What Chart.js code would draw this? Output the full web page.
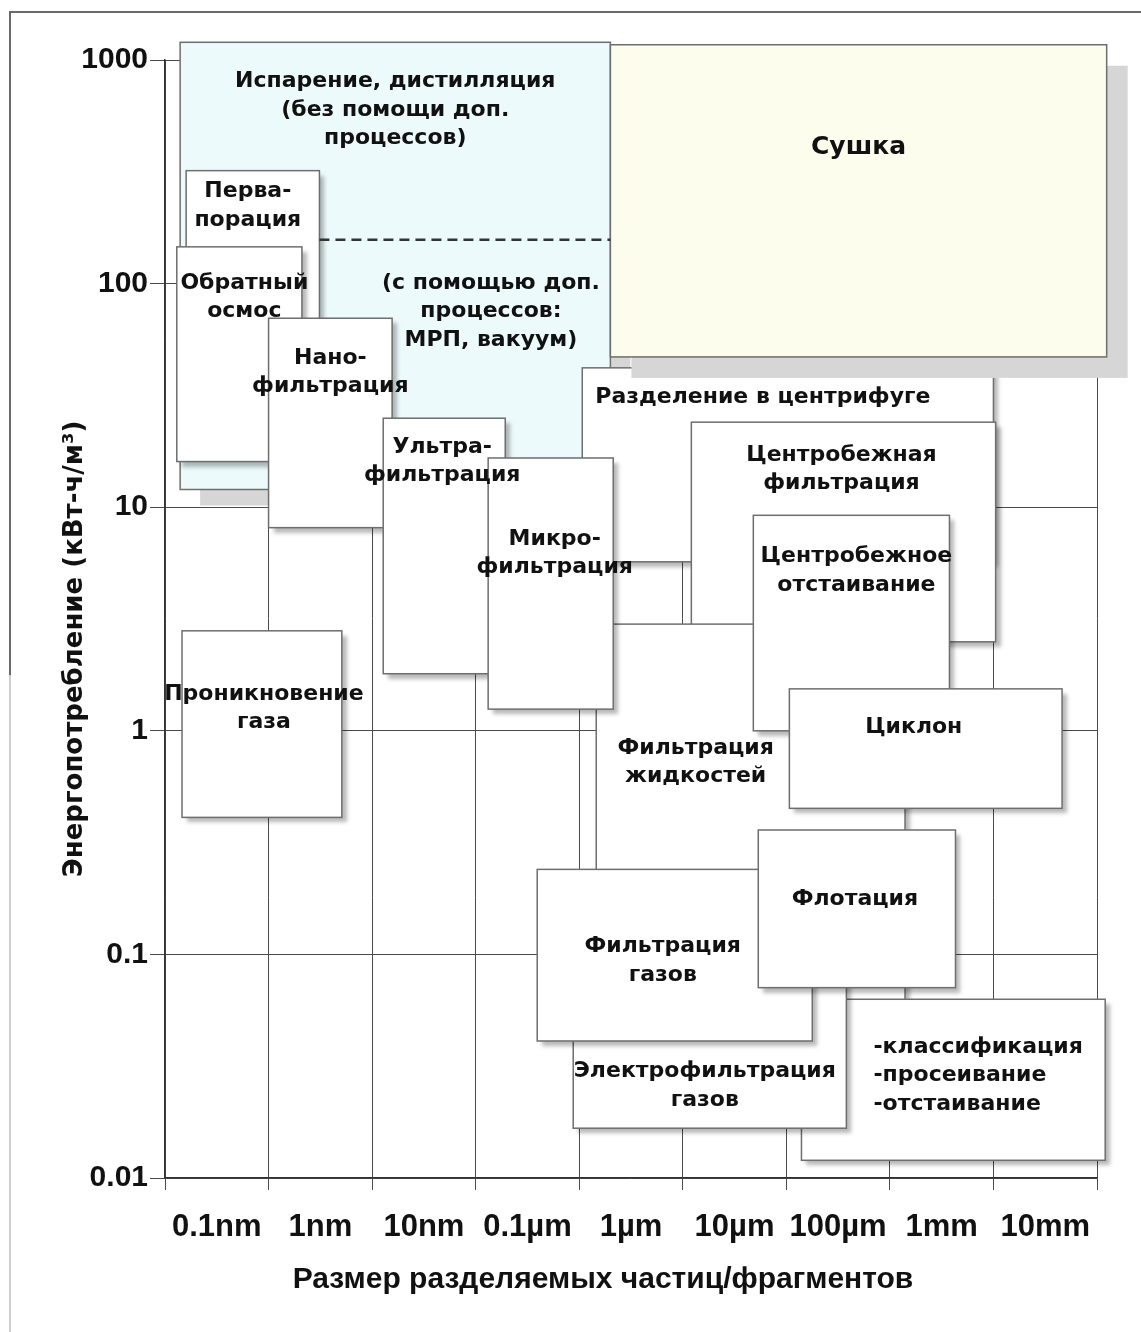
<!DOCTYPE html>
<html lang="ru">
<head>
<meta charset="utf-8">
<title>Энергопотребление процессов разделения</title>
<script src="https://cdn.jsdelivr.net/npm/chart.js@4.4.1/dist/chart.umd.min.js"></script>
<style>
  body { margin: 0; background: #fff; }
  #wrap { position: relative; width: 1141px; height: 1332px; }
  .frame { position: absolute; background: #6a6a6a; }
</style>
</head>
<body>
<div id="wrap">
  <canvas id="separationChart"></canvas>
  <div class="frame" style="left:9px; top:11px; width:1132px; height:2px;"></div>
  <div class="frame" style="left:9px; top:11px; width:2px; height:664px;"></div>
  <div class="frame" style="left:9px; top:675px; width:2px; height:657px; background:#cfcfcf;"></div>
</div>
<script>
// size of separated particles in nm, energy in kWh/m3
// order = drawing order (back to front)
const processLabels = [
    'Испарение, дистилляция\n(без помощи доп.\nпроцессов)',
    'Перва-\nпорация',
    'Обратный\nосмос',
    'Нано-\nфильтрация',
    'Ультра-\nфильтрация',
    'Разделение в центрифуге',
    'Центробежная\nфильтрация',
    'Фильтрация\nжидкостей',
    'Микро-\nфильтрация',
    'Сушка',
    'Центробежное\nотстаивание',
    'Циклон',
    'Проникновение\nгаза',
    '-классификация\n-просеивание\n-отстаивание',
    'Электрофильтрация\nгазов',
    'Фильтрация\nгазов',
    'Флотация'
];
const sizeFrom   = [0.14, 0.16, 0.13, 1.0, 12.8, 1070, 12100, 1460, 132, 2000, 48000, 107000, 0.146, 140000, 875, 393, 53600];
const sizeTo     = [2000, 3.1, 2.1, 15.6, 193, 1e7, 1.05e7, 1.4e6, 2130, 1.24e8, 3.76e6, 4.6e7, 5.1, 1.2e8, 3.8e5, 1.78e5, 4.3e6];
const energyFrom = [12, 30, 16, 8.1, 1.8, 5.7, 2.5, 0.05, 1.25, 47, 1.0, 0.45, 0.41, 0.012, 0.0167, 0.041, 0.071];
const energyTo   = [1200, 320, 146, 70, 25, 42, 24, 3.0, 16.6, 1170, 9.2, 1.54, 2.8, 0.063, 0.094, 0.24, 0.36];

// dashed border "with additional processes" inside the evaporation area
const thresholdSize = [3.1, 2000];
const thresholdEnergy = [157, 157];
const thresholdLabel = '(с помощью доп.\nпроцессов:\nМРП, вакуум)';

const xTickLabels = ['0.1nm', '1nm', '10nm', '0.1µm', '1µm', '10µm', '100µm', '1mm', '10mm'];
const yTickValues = [0.01, 0.1, 1, 10, 100, 1000];
const yTickLabels = ['0.01', '0.1', '1', '10', '100', '1000'];
const xTitle = 'Размер разделяемых частиц/фрагментов';
const yTitle = 'Энергопотребление (кВт-ч/м³)';

// styles
const boxFill = ['#ecfafc', '#fff', '#fff', '#fff', '#fff', '#fff', '#fff', '#fff', '#fff', '#fdfdee',
                 '#fff', '#fff', '#fff', '#fff', '#fff', '#fff', '#fff'];
// [offsetX, offsetY, blur, color]
const boxShadow = processLabels.map((_, i) => {
    if (i === 0) return [20, 16, 0, '#d6d6d6'];
    if (i === 9) return [21, 21, 0, '#d6d6d6'];
    return [5, 5, 4, 'rgba(0,0,0,0.28)'];
});
// text: [dx from box centre (or left edge), dy from box top to first line]
const labelShift = [[0, 39], [-5, 21], [5, 36], [0, 40], [-2, 29], [-25, 29], [-2, 33], [-55, 124], [4, 81],
                    [0, 103], [5, 41], [-12, 38], [2, 63], [72, 48], [-5, 111], [-12, 77], [-2, 69]];
const labelFont = 'bold 22px "DejaVu Sans", sans-serif';
const lineStep = 28.5;

function drawText(ctx, text, x, y, font, align) {
    ctx.font = font;
    ctx.fillStyle = '#111';
    ctx.textAlign = align;
    ctx.textBaseline = 'middle';
    text.split('\n').forEach((line, k) => ctx.fillText(line, x, y + k * lineStep));
}

const processBoxes = {
    id: 'processBoxes',
    beforeDatasetsDraw(chart) {
        const { ctx, scales: { x, y } } = chart;
        const rects = processLabels.map((_, i) => ({
            left: x.getPixelForValue(sizeFrom[i]),
            right: x.getPixelForValue(sizeTo[i]),
            top: y.getPixelForValue(energyTo[i]),
            bottom: y.getPixelForValue(energyFrom[i])
        }));
        ctx.save();
        rects.forEach((r, i) => {
            const [sx, sy, blur, scol] = boxShadow[i];
            ctx.shadowColor = scol;
            ctx.shadowOffsetX = sx;
            ctx.shadowOffsetY = sy;
            ctx.shadowBlur = blur;
            ctx.fillStyle = boxFill[i];
            ctx.fillRect(r.left, r.top, r.right - r.left, r.bottom - r.top);
            ctx.shadowColor = 'transparent';
            ctx.lineWidth = 1.5;
            ctx.strokeStyle = '#6e6e6e';
            ctx.strokeRect(r.left, r.top, r.right - r.left, r.bottom - r.top);
        });
        // labels go on top of every box
        rects.forEach((r, i) => {
            const label = processLabels[i];
            const [dx, dy] = labelShift[i];
            if (label.startsWith('-')) {
                drawText(ctx, label, r.left + dx, r.top + dy, labelFont, 'left');
            } else {
                const font = i === 9 ? 'bold 25px "DejaVu Sans", sans-serif' : labelFont;
                drawText(ctx, label, (r.left + r.right) / 2 + dx, r.top + dy, font, 'center');
            }
        });
        const cx = (x.getPixelForValue(thresholdSize[0]) + x.getPixelForValue(thresholdSize[1])) / 2;
        drawText(ctx, thresholdLabel, cx + 26, y.getPixelForValue(thresholdEnergy[0]) + 43, labelFont, 'center');
        ctx.restore();
    },
    afterDraw(chart) {
        const { ctx, chartArea: a } = chart;
        ctx.save();
        ctx.fillStyle = '#111';
        ctx.textAlign = 'center';
        ctx.textBaseline = 'middle';
        ctx.font = 'bold 30px "Liberation Sans", Arial, sans-serif';
        ctx.fillText(xTitle, (a.left + a.right) / 2 - 28, a.bottom + 102);
        ctx.translate(a.left - 90, (a.top + a.bottom) / 2 + 30);
        ctx.rotate(-Math.PI / 2);
        ctx.font = 'bold 26px "DejaVu Sans", sans-serif';
        ctx.fillText(yTitle, 0, 0);
        ctx.restore();
    }
};

new Chart(document.getElementById('separationChart'), {
    type: 'scatter',
    data: {
        datasets: [{
            data: thresholdSize.map((s, i) => ({ x: s, y: thresholdEnergy[i] })),
            showLine: true,
            borderColor: '#333',
            borderWidth: 2.5,
            borderDash: [10, 6],
            pointRadius: 0
        }]
    },
    options: {
        responsive: true,
        maintainAspectRatio: false,
        animation: false,
        layout: { padding: { top: 60, right: 44, bottom: 0, left: 0 } },
        plugins: {
            legend: { display: false },
            tooltip: { enabled: false }
        },
        scales: {
            x: {
                type: 'logarithmic',
                position: 'bottom',
                min: 0.1,
                max: 1e8,
                display: false
            },
            x2: {
                type: 'category',
                position: 'bottom',
                labels: xTickLabels,
                offset: true,
                afterFit: scale => { scale.height = 154; },
                grid: { offset: true, color: '#4a4a4a', lineWidth: 1, tickLength: 12 },
                border: { color: '#333', width: 1.5 },
                ticks: {
                    color: '#111',
                    padding: 19,
                    maxRotation: 0,
                    autoSkip: false,
                    font: { family: '"Liberation Sans", Arial, sans-serif', size: 31, weight: 'bold' }
                }
            },
            y: {
                type: 'logarithmic',
                position: 'left',
                min: 0.01,
                max: 1000,
                afterBuildTicks: scale => { scale.ticks = yTickValues.map(v => ({ value: v })); },
                afterFit: scale => { scale.width = 165; },
                grid: { color: '#4a4a4a', lineWidth: 1, tickLength: 15 },
                border: { color: '#333', width: 1.5 },
                ticks: {
                    color: '#111',
                    padding: 2,
                    callback: (value, index) => yTickLabels[index],
                    font: { family: '"Liberation Sans", Arial, sans-serif', size: 30, weight: 'bold' }
                }
            }
        }
    },
    plugins: [processBoxes]
});
</script>
</body>
</html>
